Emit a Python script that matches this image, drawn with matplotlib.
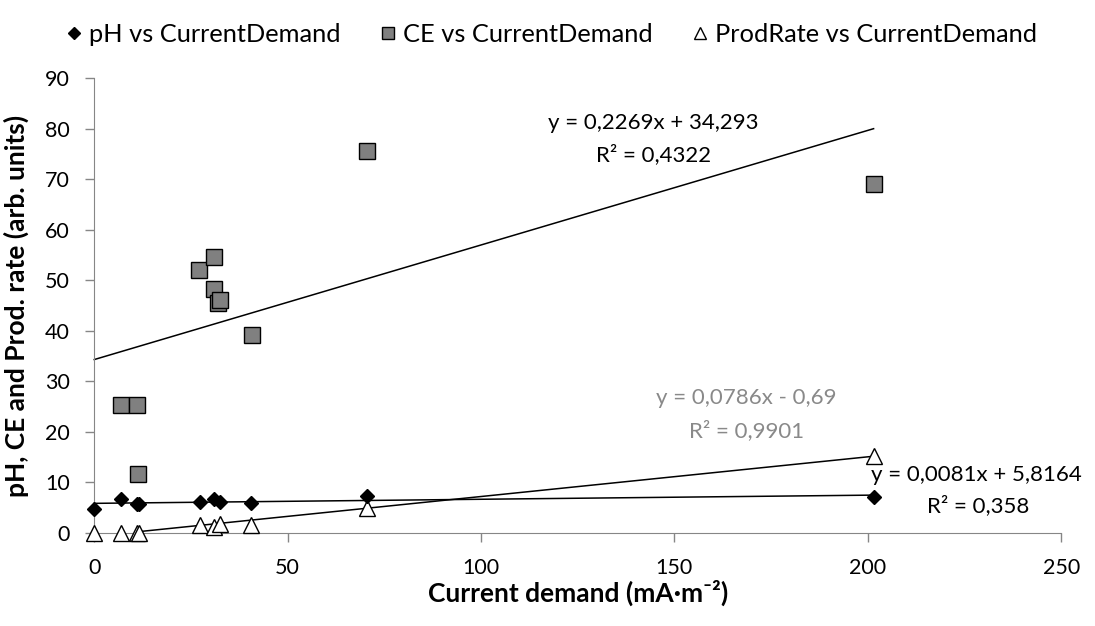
import numpy as np
import matplotlib
matplotlib.use("Agg")
import matplotlib.pyplot as plt

plt.rcParams['font.family'] = ['Lato', 'DejaVu Sans']

# current demand (mA/m2) for each sample
ph_x = [0, 6.8, 11.0, 11.6, 27.3, 30.9, 32.6, 40.6, 70.6, 201.5]
ph_y = [4.6, 6.6, 5.6, 5.7, 6.0, 6.6, 6.1, 5.9, 7.2, 7.0]

ce_x = [6.8, 11.0, 11.4, 27.1, 31.0, 31.0, 31.9, 32.6, 40.7, 70.6, 201.5]
ce_y = [25.2, 25.2, 11.6, 52.1, 54.6, 48.2, 45.5, 46.1, 39.2, 75.5, 69.1]

pr_x = [0, 6.8, 11.0, 11.6, 27.3, 30.9, 32.6, 40.6, 70.6, 201.5]
pr_y = [0, 0, 0, 0, 1.5, 1.2, 1.7, 1.5, 4.8, 15.1]

# trend lines as printed on the chart: slope, intercept, x range
ph_fit = (0.0081, 5.8164, 0, 201.5)
ce_fit = (0.2269, 34.293, 0, 201.5)
pr_fit = (0.0786, -0.69, 11.0, 201.5)

fig = plt.figure(figsize=(10.95, 6.26), dpi=100)
ax = fig.add_axes([0.0861, 0.149, 0.883, 0.726])

for slope, icpt, x0, x1 in (ce_fit, pr_fit, ph_fit):
    xs = np.array([x0, x1])
    ax.plot(xs, slope * xs + icpt, color="black", lw=1.1, zorder=2)

ax.plot(ce_x, ce_y, "s", ms=11.5, mfc="#808080", mec="black", mew=1.0,
        ls="none", label="CE vs CurrentDemand", zorder=3)
ax.plot(pr_x, pr_y, "^", ms=11.5, mfc="white", mec="black", mew=1.0,
        ls="none", label="ProdRate vs CurrentDemand", zorder=3)
ax.plot(ph_x, ph_y, "D", ms=7.5, mfc="black", mec="black",
        ls="none", label="pH vs CurrentDemand", zorder=4)

fs = 16
ax.text(144.6, 81.1, "y = 0,2269x + 34,293", ha="center", va="center", fontsize=fs)
ax.text(144.6, 74.8, "R² = 0,4322", ha="center", va="center", fontsize=fs)
ax.text(168.6, 26.6, "y = 0,0786x - 0,69", ha="center", va="center", fontsize=fs, color="#898989")
ax.text(168.6, 20.3, "R² = 0,9901", ha="center", va="center", fontsize=fs, color="#898989")
ax.text(228, 11.4, "y = 0,0081x + 5,8164", ha="center", va="center", fontsize=fs)
ax.text(228.5, 5.4, "R² = 0,358", ha="center", va="center", fontsize=fs)

ax.set_xlim(0, 250)
ax.set_ylim(0, 90)
ax.set_xticks(np.arange(0, 251, 50))
ax.set_yticks(np.arange(0, 91, 10))
for s in ("top", "right"):
    ax.spines[s].set_visible(False)
for s in ("left", "bottom"):
    ax.spines[s].set_color("#868686")
ax.tick_params(colors="#868686", labelcolor="black", labelsize=15.5, length=6.5, width=1)
ax.tick_params(axis="x", pad=12)
ax.tick_params(axis="y", pad=11)

ax.set_xlabel("Current demand (mA·m⁻²)", fontsize=19, fontweight="bold", labelpad=1)
ax.set_ylabel("pH, CE and Prod. rate (arb. units)", fontsize=19, fontweight="bold")
ax.yaxis.set_label_coords(-0.067, 0.5)

h, l = ax.get_legend_handles_labels()
order = [2, 0, 1]
fig.legend([h[i] for i in order], [l[i] for i in order], loc="upper center",
           bbox_to_anchor=(0.502, 1.0), ncol=3, frameon=False, fontsize=18.3,
           handletextpad=0.15, columnspacing=1.4, handlelength=0.9, markerscale=0.8)

for line in ax.lines:
    line.set_clip_on(False)

fig.savefig("out.png", dpi=100)
